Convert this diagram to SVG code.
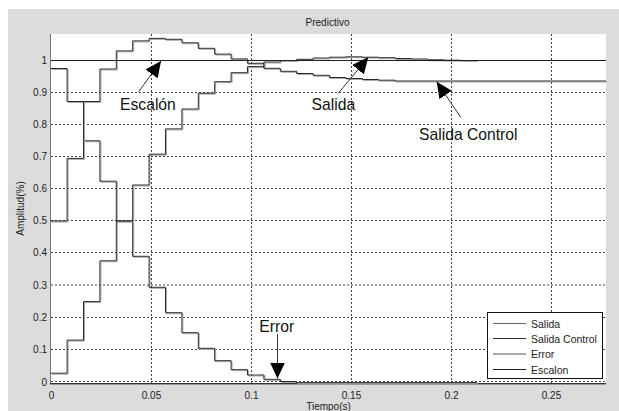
<svg xmlns="http://www.w3.org/2000/svg" width="619" height="411" viewBox="0 0 619 411">
<style>
.t{font-family:"Liberation Sans",Arial,sans-serif;fill:#222}
.tick{font-size:10px}
.ann{font-size:15.7px;fill:#111}
.leg{font-size:10.5px}
.grid{stroke:#444;stroke-width:1;stroke-dasharray:2 2;fill:none}
.cv{fill:none;stroke:#2a2a2a;stroke-width:1}
.sh{fill:none;stroke:#a8a8a8;stroke-width:1}
.arr{stroke:#333;stroke-width:1;fill:none;marker-end:url(#ah)}
</style>
<defs>
<marker id="ah" markerUnits="userSpaceOnUse" markerWidth="17" markerHeight="16" refX="16" refY="7.5" orient="auto">
<path d="M0,0 L16,7.5 L0,15 z" fill="#000"/>
</marker>
<path id="pSalida" d="M50.7,373.2 H67.1 V340.1 H83.5 V301.6 H99.9 V260.8 H116.3 V221 H132.7 V185 H149.1 V154.2 H165.5 V128.9 H181.9 V109 H198.3 V93.2 H214.7 V81.7 H231.1 V72.7 H247.5 V66.6 H263.9 V62 H280.3 V60.5 H296.7 V59.3 H313.1 V58 H329.5 V57.2 H345.9 V56.8 H362.3 V57.2 H378.7 V57.7 H395.1 V58.5 H411.5 V59 H427.9 V59.8 H444.3 V60.2 H460.7 V60.5 H477.1"/>
<path id="pControl" d="M50.7,221 H67.1 V158.4 H83.5 V101.5 H99.9 V69 H116.3 V50.9 H132.7 V40.9 H149.1 V38.4 H165.5 V39.3 H181.9 V42.8 H198.3 V48.3 H214.7 V54.1 H231.1 V58.9 H247.5 V63.3 H263.9 V68.3 H280.3 V71.3 H296.7 V73.5 H313.1 V75.3 H329.5 V77.5 H345.9 V78.5 H362.3 V79.5 H378.7 V80.2 H395.1 V81 H606"/>
<path id="pError" d="M50.7,68.5 H67.1 V101.5 H83.5 V140.8 H99.9 V181.2 H116.3 V221 H132.7 V256.3 H149.1 V287.3 H165.5 V312.7 H181.9 V332.7 H198.3 V348.3 H214.7 V360.7 H231.1 V369.7 H247.5 V375 H263.9 V379.3 H280.3 V381.5 H296.7 V382.6 H477.1"/>
</defs>

<g id="background">
<rect x="0" y="0" width="619" height="411" fill="#ffffff"/>
<rect x="8" y="9" width="611" height="402" fill="#dcdcdc"/>
<rect x="51" y="34" width="555" height="349" fill="#ffffff"/>
</g>

<g id="grid">
<path class="grid" d="M151.5,34 V383 M251.5,34 V383 M351.5,34 V383 M451.5,34 V383 M551.5,34 V383"/>
<path class="grid" d="M51,92.5 H606 M51,124.5 H606 M51,156.5 H606 M51,188.5 H606 M51,220.5 H606 M51,252.5 H606 M51,285 H606 M51,317.5 H606 M51,349.5 H606 M51,381.5 H606"/>
</g>

<g id="axes">
<line x1="50.5" y1="34" x2="50.5" y2="384" stroke="#777" stroke-width="1"/>
<line x1="50" y1="383.5" x2="606" y2="383.5" stroke="#333" stroke-width="1"/>
<line x1="50" y1="384.5" x2="606" y2="384.5" stroke="#9a9a9a" stroke-width="1"/>
<text class="t" x="327.5" y="26" font-size="10" text-anchor="middle">Predictivo</text>
<g class="t tick" text-anchor="end">
<text x="47" y="64">1</text>
<text x="47" y="96">0.9</text>
<text x="47" y="128">0.8</text>
<text x="47" y="160">0.7</text>
<text x="47" y="192">0.6</text>
<text x="47" y="224">0.5</text>
<text x="47" y="256">0.4</text>
<text x="47" y="288.5">0.3</text>
<text x="47" y="321">0.2</text>
<text x="47" y="353">0.1</text>
<text x="47" y="385.5">0</text>
</g>
<g class="t tick" text-anchor="middle">
<text x="51.5" y="399">0</text>
<text x="151.5" y="399">0.05</text>
<text x="251.5" y="399">0.1</text>
<text x="351.5" y="399">0.15</text>
<text x="451.5" y="399">0.2</text>
<text x="551.5" y="399">0.25</text>
</g>
<text class="t tick" x="328.5" y="409.5" text-anchor="middle">Tiempo(s)</text>
<text class="t tick" x="0" y="0" text-anchor="middle" transform="translate(23.5,208.5) rotate(-90)">Amplitud(%)</text>
</g>

<g id="curves">
<g id="curve-error">
<use href="#pError" class="sh" transform="translate(1,1)"/>
<use href="#pError" class="cv"/>
</g>
<g id="curve-salida">
<use href="#pSalida" class="sh" transform="translate(1,1)"/>
<use href="#pSalida" class="cv"/>
</g>
<g id="curve-control">
<use href="#pControl" class="sh" transform="translate(1,1)"/>
<use href="#pControl" class="cv"/>
</g>
<g id="curve-escalon">
<line x1="51" y1="60.5" x2="606" y2="60.5" stroke="#1e1e1e" stroke-width="1"/>
</g>
</g>

<g id="connectors">
<line class="arr" x1="138.7" y1="91.7" x2="161" y2="61"/>
<line class="arr" x1="338.3" y1="93.3" x2="368.3" y2="57.3"/>
<line class="arr" x1="460.7" y1="117.3" x2="436.7" y2="81.7"/>
<line class="arr" x1="277.5" y1="334" x2="277.5" y2="378.5"/>
</g>

<g id="label-escalon"><text class="t ann" x="120" y="110">Escalón</text></g>
<g id="label-salida"><text class="t ann" x="311.5" y="110">Salida</text></g>
<g id="label-control"><text class="t ann" x="419" y="140">Salida Control</text></g>
<g id="label-error"><text class="t ann" x="259.3" y="332">Error</text></g>

<g id="legend">
<rect x="487.5" y="312.5" width="115" height="66" fill="#ffffff" stroke="#111" stroke-width="1"/>
<line x1="493" y1="323.5" x2="526" y2="323.5" stroke="#666"/>
<line x1="493" y1="338.5" x2="526" y2="338.5" stroke="#333"/>
<line x1="493" y1="354" x2="526" y2="354" stroke="#555"/>
<line x1="493" y1="369.5" x2="526" y2="369.5" stroke="#222"/>
<g class="t leg">
<text x="531" y="327.5">Salida</text>
<text x="531" y="342.5">Salida Control</text>
<text x="531" y="358">Error</text>
<text x="531" y="373.5">Escalon</text>
</g>
</g>
</svg>
